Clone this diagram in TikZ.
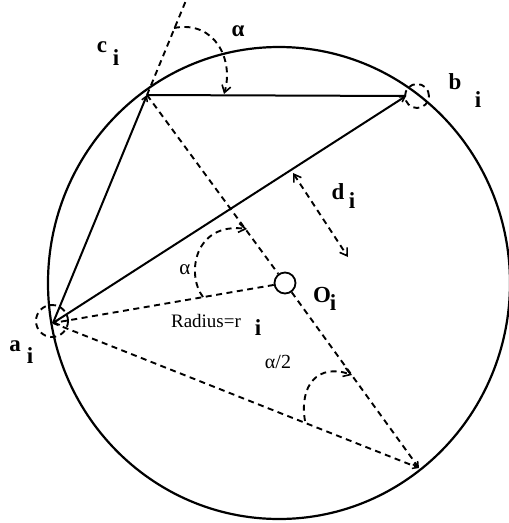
\documentclass[tikz,border=0pt]{standalone}
\usepackage{fontspec}
\setmainfont{Liberation Serif}
\usetikzlibrary{arrows.meta,calc}
\begin{document}
\begin{tikzpicture}[x=1pt,y=-1pt,
  solidln/.style={line width=2pt},
  dashln/.style={line width=1.9pt, dash pattern=on 6pt off 4.5pt},
  circln/.style={line width=2.2pt},
  tipo/.tip={Straight Barb[length=7pt,width=9pt,line width=1.6pt]},
  tips/.tip={Straight Barb[length=5pt,width=6pt,line width=1.5pt]},
  lbl/.style={font=\fontsize{23}{26}\selectfont\bfseries, inner sep=0pt},
  txt/.style={font=\fontsize{19}{22}\selectfont, inner sep=0pt}]
\useasboundingbox (0,0) rectangle (509,523);
% main circle
\draw[circln] (279,283) ellipse [x radius=231pt, y radius=236pt];
% vertices
\coordinate (a) at (53,323);
\coordinate (b) at (406,96);
\coordinate (c) at (147,95);
\coordinate (p) at (419,468);
\coordinate (O) at (285,283);
\coordinate (top) at ($(a)!1.41!(c)$);
\node[draw, circle, line width=1.8pt, minimum size=21pt, inner sep=0pt] (Oc) at (O) {};
\node[draw, circle, dashln, minimum size=32pt, inner sep=0pt] (ca) at (52,321) {};
\node[draw, circle, dashln, minimum size=24pt, inner sep=0pt] (cb) at (417,96) {};
% solid triangle
\draw[solidln, -tips] (a) -- (c);
\draw[solidln, -tips] (a) -- (b);
\draw[solidln] (c) -- (b);
% dashed lines
\draw[dashln] (c) -- (top);
\draw[dashln] (c) -- (Oc);
\draw[dashln, -tips] (Oc) -- (p);
\draw[dashln, -tips] (Oc) -- (a);
\draw[dashln, -tips] (a) -- (p);
% d_i arrow
\coordinate (d1) at (293,173);
\coordinate (d2) at (348,257);
\draw[dashln, tipo-tipo] (d1) -- (d2);
% angle marks
\coordinate (t1) at (174,28);
\coordinate (t2) at (224,94);
\draw[dashln, -tipo] (t1) .. controls (215,20) and (234,60) .. (t2);
\coordinate (m1) at (203,297);
\coordinate (m2) at (247,229);
\draw[dashln, -tipo] (m1) .. controls (186,275) and (194,222) .. (m2);
\coordinate (h1) at (305,421);
\coordinate (h2) at (352,375);
\draw[dashln, -tipo] (h1) .. controls (299,385) and (318,363) .. (h2);
% labels
\node[lbl] (la) at (238,31) {α};
\node[lbl] (lc) at (102,47) {c};
\node[lbl] (lci) at (116,58) {i};
\node[lbl] (lb) at (455,82) {b};
\node[lbl] (lbi) at (478,100) {i};
\node[lbl] (ld) at (338,192) {d};
\node[lbl] (ldi) at (352,201) {i};
\node[lbl] (lO) at (322,295) {O};
\node[lbl] (lOi) at (333,303) {i};
\node[lbl] (lA) at (15,346) {a};
\node[lbl] (lAi) at (30,356) {i};
\node[txt] (lr) at (206,321) {Radius=r};
\node[lbl] (lri) at (258,328) {i};
\node[txt, font=\fontsize{21}{24}\selectfont] (lm) at (185,270) {α};
\node[txt, font=\fontsize{20}{23}\selectfont] (lh) at (278,362) {α/2};
\end{tikzpicture}
\end{document}
